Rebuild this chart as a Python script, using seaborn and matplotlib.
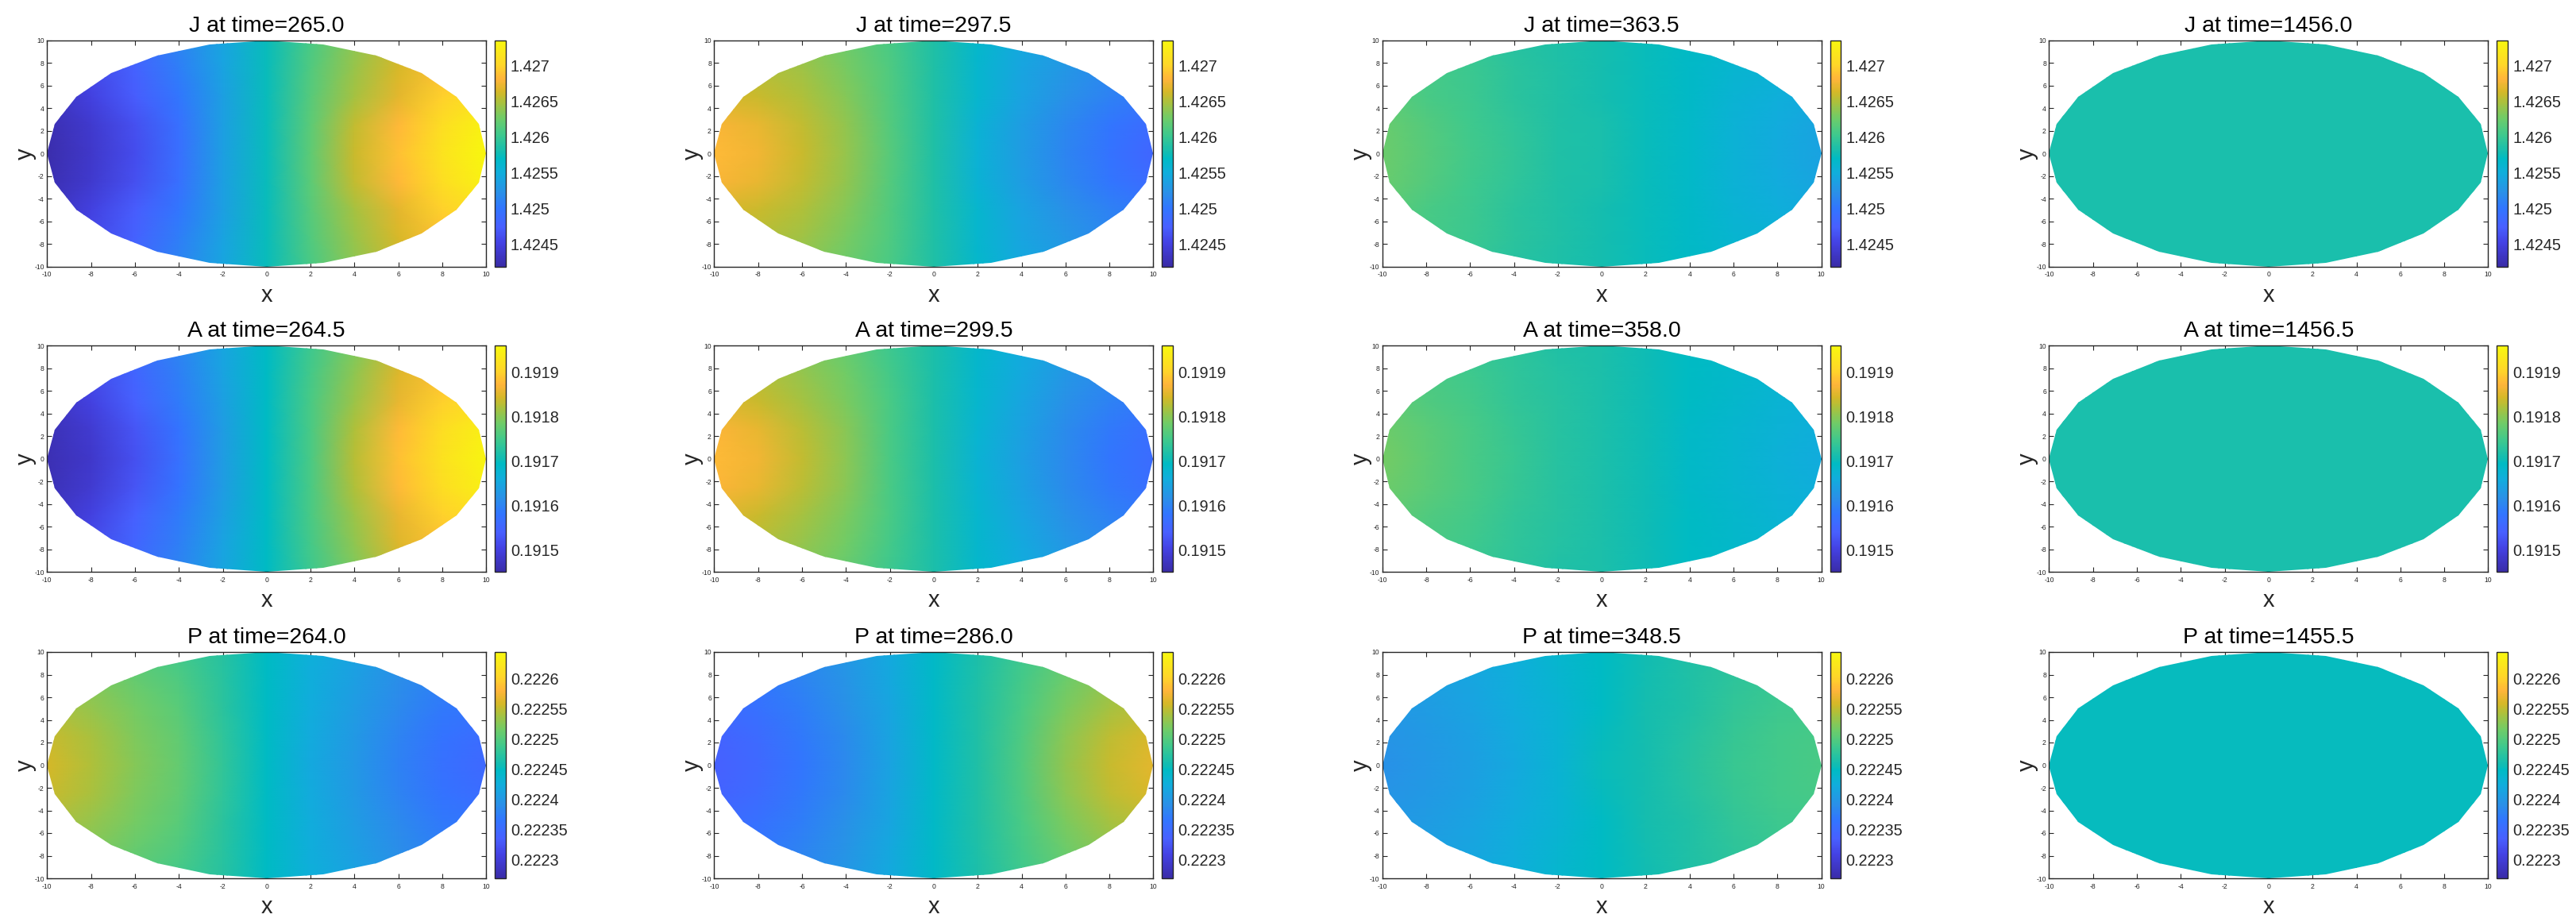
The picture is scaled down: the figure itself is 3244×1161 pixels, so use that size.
import numpy as np
import matplotlib
matplotlib.use('Agg')
import matplotlib.pyplot as plt
from matplotlib.patches import Polygon
import seaborn as sns

# times shown in each row
J_times = ['265.0', '297.5', '363.5', '1456.0']
A_times = ['264.5', '299.5', '358.0', '1456.5']
P_times = ['264.0', '286.0', '348.5', '1455.5']

# values read along x=-10,-8,...,10, rows are |y|=10, 7.5, 5, 2.5, 0
J_265 = [[1.42451, 1.42466, 1.42485, 1.42514, 1.42542, 1.42574, 1.42609, 1.42637, 1.42659, 1.42672, 1.42688],
         [1.42438, 1.42458, 1.42478, 1.42507, 1.42539, 1.42574, 1.42612, 1.42642, 1.42664, 1.42686, 1.42702],
         [1.42428, 1.42451, 1.42473, 1.42501, 1.42536, 1.42574, 1.42615, 1.42647, 1.42669, 1.42697, 1.42713],
         [1.42424, 1.42441, 1.42463, 1.42494, 1.42536, 1.42574, 1.42617, 1.42656, 1.42683, 1.42709, 1.42730],
         [1.42422, 1.42438, 1.42460, 1.42492, 1.42536, 1.42574, 1.42618, 1.42659, 1.42688, 1.42713, 1.42735]]
J_297 = [[1.42647, 1.42643, 1.42637, 1.42624, 1.42609, 1.42586, 1.42564, 1.42545, 1.42533, 1.42523, 1.42517],
         [1.42657, 1.42652, 1.42644, 1.42629, 1.42611, 1.42586, 1.42562, 1.42542, 1.42528, 1.42516, 1.42508],
         [1.42665, 1.42659, 1.42650, 1.42634, 1.42612, 1.42586, 1.42561, 1.42539, 1.42523, 1.42511, 1.42501],
         [1.42679, 1.42671, 1.42657, 1.42639, 1.42614, 1.42586, 1.42557, 1.42535, 1.42516, 1.42501, 1.42487],
         [1.42684, 1.42675, 1.42659, 1.42640, 1.42615, 1.42586, 1.42555, 1.42533, 1.42514, 1.42498, 1.42482]]
J_363 = [[1.42609, 1.42604, 1.42599, 1.42590, 1.42585, 1.42580, 1.42574, 1.42569, 1.42563, 1.42558, 1.42552],
         [1.42614, 1.42607, 1.42601, 1.42592, 1.42586, 1.42580, 1.42574, 1.42568, 1.42560, 1.42555, 1.42548],
         [1.42618, 1.42609, 1.42602, 1.42593, 1.42586, 1.42580, 1.42574, 1.42568, 1.42558, 1.42552, 1.42545],
         [1.42623, 1.42614, 1.42604, 1.42595, 1.42586, 1.42582, 1.42574, 1.42567, 1.42556, 1.42548, 1.42541],
         [1.42624, 1.42615, 1.42605, 1.42596, 1.42586, 1.42582, 1.42574, 1.42566, 1.42555, 1.42547, 1.42539]]
J_1456 = [[1.42582, 1.42582, 1.42582, 1.42582, 1.42582, 1.42582, 1.42582, 1.42582, 1.42582, 1.42582, 1.42582],
          [1.42582, 1.42582, 1.42582, 1.42582, 1.42582, 1.42582, 1.42582, 1.42582, 1.42582, 1.42582, 1.42582],
          [1.42582, 1.42582, 1.42582, 1.42582, 1.42582, 1.42582, 1.42582, 1.42582, 1.42582, 1.42582, 1.42582],
          [1.42582, 1.42582, 1.42582, 1.42582, 1.42582, 1.42582, 1.42582, 1.42582, 1.42582, 1.42582, 1.42582],
          [1.42582, 1.42582, 1.42582, 1.42582, 1.42582, 1.42582, 1.42582, 1.42582, 1.42582, 1.42582, 1.42582]]

A_264 = [[0.191501, 0.191532, 0.191562, 0.191603, 0.191649, 0.191695, 0.191746, 0.191792, 0.191838, 0.191858, 0.191884],
         [0.191484, 0.191515, 0.191551, 0.191595, 0.191644, 0.191695, 0.191751, 0.191803, 0.191849, 0.191881, 0.191906],
         [0.191470, 0.191501, 0.191542, 0.191588, 0.191639, 0.191695, 0.191756, 0.191812, 0.191858, 0.191899, 0.191924],
         [0.191463, 0.191486, 0.191526, 0.191576, 0.191635, 0.191695, 0.191756, 0.191823, 0.191878, 0.191918, 0.191947],
         [0.191460, 0.191481, 0.191521, 0.191572, 0.191634, 0.191695, 0.191756, 0.191827, 0.191884, 0.191924, 0.191955]]
A_299 = [[0.191822, 0.191812, 0.191797, 0.191776, 0.191746, 0.191715, 0.191685, 0.191659, 0.191639, 0.191623, 0.191608],
         [0.191839, 0.191826, 0.191808, 0.191785, 0.191751, 0.191715, 0.191682, 0.191654, 0.191627, 0.191609, 0.191594],
         [0.191853, 0.191838, 0.191817, 0.191792, 0.191756, 0.191715, 0.191680, 0.191649, 0.191618, 0.191598, 0.191583],
         [0.191872, 0.191857, 0.191829, 0.191800, 0.191756, 0.191715, 0.191676, 0.191642, 0.191611, 0.191587, 0.191567],
         [0.191878, 0.191863, 0.191833, 0.191802, 0.191756, 0.191715, 0.191674, 0.191639, 0.191608, 0.191583, 0.191562]]
A_358 = [[0.191761, 0.191751, 0.191741, 0.191731, 0.191720, 0.191715, 0.191705, 0.191695, 0.191690, 0.191685, 0.191674],
         [0.191769, 0.191757, 0.191747, 0.191734, 0.191723, 0.191715, 0.191705, 0.191695, 0.191687, 0.191679, 0.191671],
         [0.191776, 0.191761, 0.191751, 0.191736, 0.191725, 0.191715, 0.191705, 0.191695, 0.191685, 0.191674, 0.191669],
         [0.191784, 0.191769, 0.191755, 0.191740, 0.191725, 0.191715, 0.191705, 0.191691, 0.191681, 0.191670, 0.191662],
         [0.191787, 0.191771, 0.191756, 0.191741, 0.191725, 0.191715, 0.191705, 0.191690, 0.191680, 0.191669, 0.191659]]
A_1456 = [[0.191713, 0.191713, 0.191713, 0.191713, 0.191713, 0.191713, 0.191713, 0.191713, 0.191713, 0.191713, 0.191713],
          [0.191713, 0.191713, 0.191713, 0.191713, 0.191713, 0.191713, 0.191713, 0.191713, 0.191713, 0.191713, 0.191713],
          [0.191713, 0.191713, 0.191713, 0.191713, 0.191713, 0.191713, 0.191713, 0.191713, 0.191713, 0.191713, 0.191713],
          [0.191713, 0.191713, 0.191713, 0.191713, 0.191713, 0.191713, 0.191713, 0.191713, 0.191713, 0.191713, 0.191713],
          [0.191713, 0.191713, 0.191713, 0.191713, 0.191713, 0.191713, 0.191713, 0.191713, 0.191713, 0.191713, 0.191713]]

P_264 = [[0.222520, 0.222513, 0.222502, 0.222490, 0.222472, 0.222449, 0.222427, 0.222412, 0.222397, 0.222385, 0.222374],
         [0.222533, 0.222523, 0.222510, 0.222497, 0.222474, 0.222449, 0.222425, 0.222408, 0.222390, 0.222377, 0.222368],
         [0.222543, 0.222532, 0.222517, 0.222502, 0.222475, 0.222449, 0.222423, 0.222404, 0.222385, 0.222370, 0.222363],
         [0.222554, 0.222540, 0.222522, 0.222507, 0.222478, 0.222449, 0.222420, 0.222401, 0.222380, 0.222362, 0.222352],
         [0.222558, 0.222543, 0.222524, 0.222509, 0.222479, 0.222449, 0.222419, 0.222400, 0.222378, 0.222359, 0.222348]]
P_286 = [[0.222367, 0.222374, 0.222385, 0.222400, 0.222419, 0.222445, 0.222464, 0.222487, 0.222505, 0.222517, 0.222528],
         [0.222357, 0.222366, 0.222379, 0.222396, 0.222417, 0.222445, 0.222466, 0.222491, 0.222513, 0.222529, 0.222540],
         [0.222348, 0.222359, 0.222374, 0.222393, 0.222415, 0.222445, 0.222468, 0.222494, 0.222520, 0.222539, 0.222550],
         [0.222340, 0.222351, 0.222369, 0.222387, 0.222413, 0.222445, 0.222468, 0.222497, 0.222528, 0.222549, 0.222561],
         [0.222337, 0.222348, 0.222367, 0.222385, 0.222412, 0.222445, 0.222468, 0.222498, 0.222530, 0.222552, 0.222565]]
P_348 = [[0.222408, 0.222412, 0.222419, 0.222427, 0.222438, 0.222449, 0.222457, 0.222468, 0.222475, 0.222479, 0.222483],
         [0.222404, 0.222408, 0.222415, 0.222425, 0.222436, 0.222449, 0.222459, 0.222468, 0.222477, 0.222483, 0.222487],
         [0.222400, 0.222404, 0.222412, 0.222423, 0.222434, 0.222449, 0.222460, 0.222468, 0.222479, 0.222487, 0.222490],
         [0.222395, 0.222401, 0.222409, 0.222420, 0.222434, 0.222452, 0.222460, 0.222471, 0.222482, 0.222489, 0.222493],
         [0.222393, 0.222400, 0.222408, 0.222419, 0.222434, 0.222453, 0.222460, 0.222472, 0.222483, 0.222490, 0.222494]]
P_1455 = [[0.222451, 0.222451, 0.222451, 0.222451, 0.222451, 0.222451, 0.222451, 0.222451, 0.222451, 0.222451, 0.222451],
          [0.222451, 0.222451, 0.222451, 0.222451, 0.222451, 0.222451, 0.222451, 0.222451, 0.222451, 0.222451, 0.222451],
          [0.222451, 0.222451, 0.222451, 0.222451, 0.222451, 0.222451, 0.222451, 0.222451, 0.222451, 0.222451, 0.222451],
          [0.222451, 0.222451, 0.222451, 0.222451, 0.222451, 0.222451, 0.222451, 0.222451, 0.222451, 0.222451, 0.222451],
          [0.222451, 0.222451, 0.222451, 0.222451, 0.222451, 0.222451, 0.222451, 0.222451, 0.222451, 0.222451, 0.222451]]

# colorbar scales
J_limits = (1.42419, 1.42735)
A_limits = (0.19145, 0.19196)
P_limits = (0.222269, 0.222644)
J_ticks = [1.4245, 1.425, 1.4255, 1.426, 1.4265, 1.427]
A_ticks = [0.1915, 0.1916, 0.1917, 0.1918, 0.1919]
P_ticks = [0.2223, 0.22235, 0.2224, 0.22245, 0.2225, 0.22255, 0.2226]
J_tick_labels = ['1.4245', '1.425', '1.4255', '1.426', '1.4265', '1.427']
A_tick_labels = ['0.1915', '0.1916', '0.1917', '0.1918', '0.1919']
P_tick_labels = ['0.2223', '0.22235', '0.2224', '0.22245', '0.2225', '0.22255', '0.2226']

# outline of the domain, upper half, going from x=-10 to x=10
rim_x = [-10, -9.66, -8.66, -7.07, -5, -2.59, 0, 2.59, 5, 7.07, 8.66, 9.66, 10]
rim_y = [0, 2.59, 5, 7.07, 8.66, 9.66, 10, 9.66, 8.66, 7.07, 5, 2.59, 0]

axis_ticks = [-10, -8, -6, -4, -2, 0, 2, 4, 6, 8, 10]

# colormap colors, bottom to top
cbar_colors = ['#3A2CA8', '#4442E4', '#4860FF', '#3275FF', '#2A90E8', '#10AEDC', '#00BBC4',
               '#10BCB4', '#40C98C', '#6FCC68', '#B0C03A', '#D6B828', '#FFB53A', '#FFD52A', '#F8F80E']
cbar_stops = [0, 0.105, 0.175, 0.256, 0.326, 0.414, 0.478, 0.5, 0.586, 0.656, 0.733, 0.773, 0.83, 0.89, 1]

sns.set_style('ticks')
plt.rcParams['font.family'] = ['Liberation Sans', 'DejaVu Sans']

parula = matplotlib.colors.LinearSegmentedColormap.from_list(
    'parula_old', list(zip(cbar_stops, sns.color_palette(cbar_colors, len(cbar_colors)))), N=256)

W, H = 3244, 1161
fig = plt.figure(figsize=(W / 100, H / 100), dpi=100)
col_left = [59.3, 899.4, 1740.7, 2580.4]
row_top = [50.7, 435.3, 821]
ax_w, ax_h = 553, 285

rows = [('J', J_times, [J_265, J_297, J_363, J_1456], J_limits, J_ticks, J_tick_labels),
        ('A', A_times, [A_264, A_299, A_358, A_1456], A_limits, A_ticks, A_tick_labels),
        ('P', P_times, [P_264, P_286, P_348, P_1455], P_limits, P_ticks, P_tick_labels)]

dark = '#262626'
for r, (name, times, panels, limits, cticks, clabels) in enumerate(rows):
    for c in range(4):
        left, top = col_left[c], row_top[r]
        ax = fig.add_axes([left / W, 1 - (top + ax_h) / H, ax_w / W, ax_h / H])
        cax = fig.add_axes([(left + ax_w + 11) / W, 1 - (top + ax_h) / H, 13.4 / W, ax_h / H])

        # mirror the rows so that the grid covers y=10 down to y=-10
        half = np.array(panels[c])
        grid = np.vstack([half, half[3::-1]])
        sns.heatmap(grid, ax=ax, cbar_ax=cax, cmap=parula, vmin=limits[0], vmax=limits[1],
                    xticklabels=False, yticklabels=False, shading='gouraud', linewidths=0,
                    cbar_kws={'ticks': cticks})
        mesh = ax.collections[0]

        # grid index coordinates: 2 units per column, 2.5 units per row
        rim_i = (np.array(rim_x) + 10) / 2
        rim_j = (10 - np.array(rim_y)) / 2.5
        outline = np.column_stack([np.r_[rim_i, rim_i[::-1]], np.r_[rim_j, 8 - rim_j[::-1]]])
        mesh.set_clip_path(Polygon(outline, closed=True, transform=ax.transData))

        ax.set_xlim(0, 10)
        ax.set_ylim(8, 0)
        for side in ax.spines.values():
            side.set_visible(True)
            side.set_linewidth(1.0)
            side.set_color(dark)
        ax.set_xticks((np.array(axis_ticks) + 10) / 2, [str(v) for v in axis_ticks])
        ax.set_yticks((10 - np.array(axis_ticks)) / 2.5, [str(v) for v in axis_ticks])
        ax.tick_params(direction='in', length=4, width=0.8, labelsize=6.2, color=dark, labelcolor=dark,
                       top=True, right=True, left=True, bottom=True)
        ax.tick_params(axis='x', pad=4)
        ax.tick_params(axis='y', pad=2.5)

        ax.set_title(f'{name} at time={times[c]}', fontsize=20.5, color='black', pad=8)
        ax.set_xlabel('x', fontsize=21, color=dark, va='center')
        ax.set_ylabel('y', fontsize=21, color=dark, va='center')
        ax.xaxis.set_label_coords(0.5, -0.126)
        ax.yaxis.set_label_coords(-0.049, 0.5)

        cbar = mesh.colorbar
        cbar.outline.set_visible(True)
        cbar.outline.set_linewidth(1.0)
        cbar.outline.set_edgecolor(dark)
        cbar.set_ticks(cticks, labels=clabels)
        cbar.ax.tick_params(direction='in', length=3, width=0.8, labelsize=14.3, color=dark,
                            labelcolor=dark, pad=4.5)

fig.savefig('out.png', dpi=100)
